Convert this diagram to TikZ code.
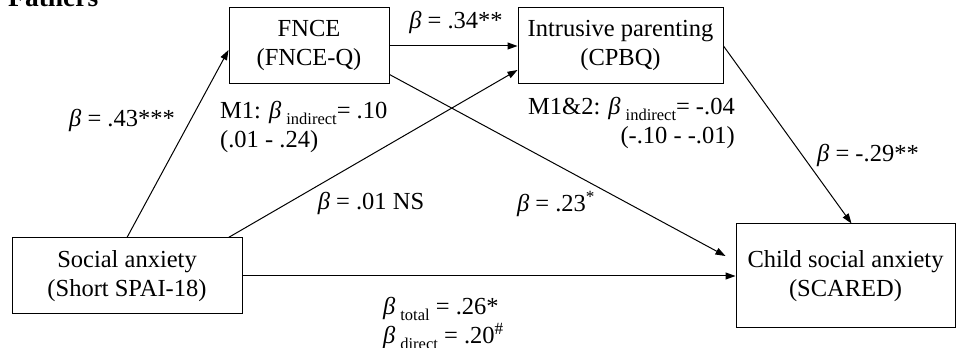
\documentclass[tikz,border=0pt]{standalone}
\usepackage{fontspec}
\setmainfont{Liberation Serif}
\usetikzlibrary{positioning,arrows.meta}

\newcommand{\diafont}{\fontsize{24.5}{29}\selectfont}
\newcommand{\bt}{\textit{β}}
\newcommand{\bsub}[1]{\textit{β}\hspace{5pt}\raisebox{-6pt}{\fontsize{16.5}{16.5}\selectfont #1}}

\begin{document}
\begin{tikzpicture}[
        x=1pt, y=1pt,
        var/.style={draw, line width=1pt, align=center, inner sep=0pt, font=\diafont},
        coef/.style={inner sep=0pt, font=\diafont},
        pijl/.style={-{Triangle[length=10pt,width=7pt]}, line width=1pt}
    ]
        \useasboundingbox (0,0) rectangle (956,348);
        \node[anchor=base west, inner sep=0pt, font=\bfseries\fontsize{27.5}{30}\selectfont] (titel) at (8,341) {Fathers};
        % variabelen
        \node[var, minimum width=160pt, minimum height=76pt] (fnce) at (309,302) {FNCE\\(FNCE-Q)};
        \node[var, minimum width=205pt, minimum height=76pt] (ip) at (620.5,302) {Intrusive parenting\\(CPBQ)};
        \node[var, minimum width=230pt, minimum height=76pt] (sa) at (127,72) {Social anxiety\\(Short SPAI-18)};
        \node[var, minimum width=219pt, minimum height=104pt] (csa) at (845.5,72) {Child social anxiety\\(SCARED)};
        % paden
        \draw[pijl] (sa.north) -- ([yshift=-4pt]fnce.west);
        \draw[pijl] ([xshift=-14pt]sa.north east) -- ([yshift=-24pt]ip.west);
        \draw[pijl] (fnce.east) -- (ip.west);
        \draw[pijl] ([yshift=10pt]fnce.south east) -- ([xshift=-10pt,yshift=20pt]csa.west);
        \draw[pijl] (ip.east) -- ([xshift=6pt]csa.north);
        \draw[pijl] (sa.east) -- (csa.west);
        % coefficienten
        \node[coef] (b43) at (122,228) {\bt{} = .43***};
        \node[coef] (b34) at (456,326) {\bt{} = .34**};
        \node[coef, align=left, anchor=west] (m1) at (220,221) {M1: \bsub{indirect}= .10\\(.01 - .24)};
        \node[coef, align=right, anchor=east] (m12) at (735,225) {M1\&2: \bsub{indirect}= -.04\\(-.10 - -.01)};
        \node[coef] (b29) at (868,193) {\bt{} = -.29**};
        \node[coef] (b01) at (371,145) {\bt{} = .01 NS};
        \node[coef] (b23) at (556,144) {\bt{} = .23\textsuperscript{*}};
        \node[coef, align=left, anchor=west] (btot) at (383,25) {\bsub{total} = .26*\\\bsub{direct} = .20\textsuperscript{\#}};
    \end{tikzpicture}
\end{document}
